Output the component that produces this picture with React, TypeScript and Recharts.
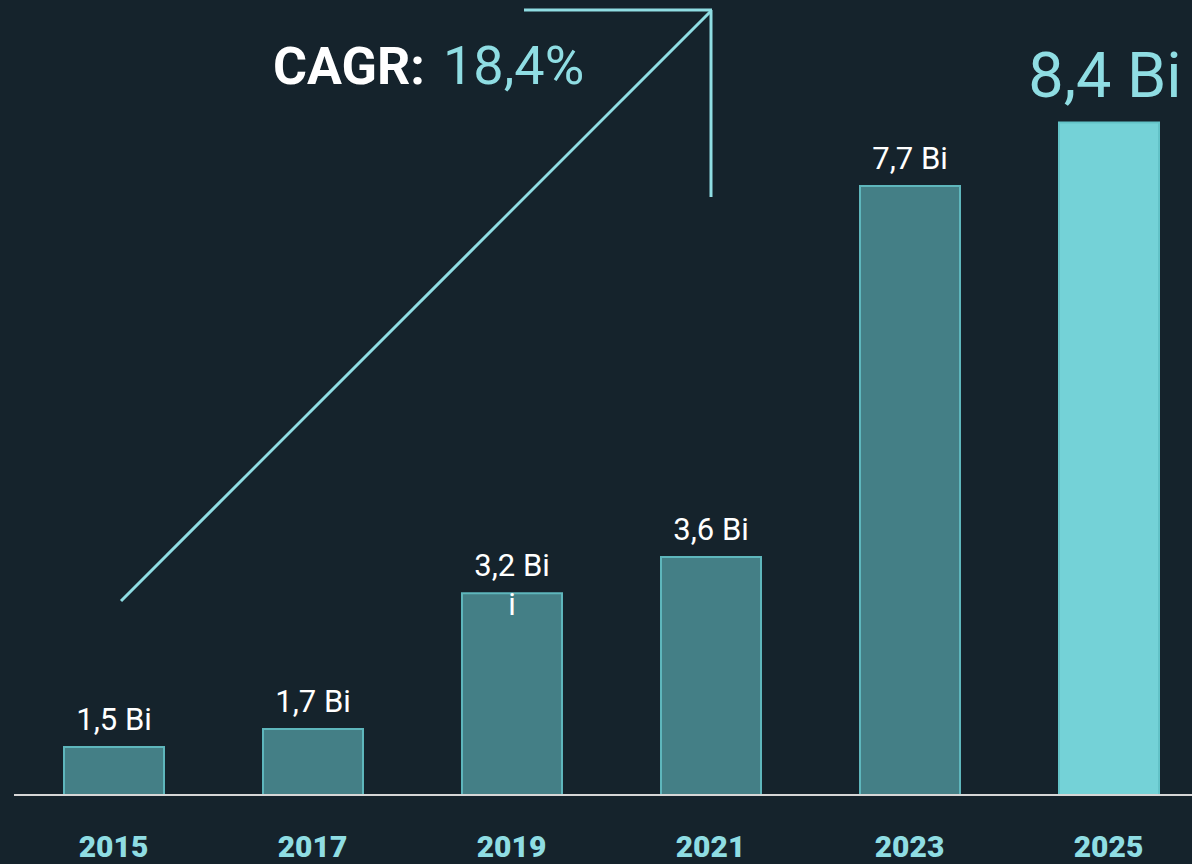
import React from "react";
import { BarChart, Bar, XAxis, YAxis, Cell, LabelList } from "recharts";

const years = ["2015", "2017", "2019", "2021", "2023", "2025"];
const values = [1.5, 1.7, 3.2, 3.6, 7.7, 8.4];
const valueLabels = ["1,5 Bi", "1,7 Bi", "3,2 Bi\ni", "3,6 Bi", "7,7 Bi", "8,4 Bi"];
const highlighted = [false, false, false, false, false, true];
const cagrLabel = "CAGR:";
const cagrValue = "18,4%";

const data = years.map((year, i) => ({
  year,
  value: values[i],
  label: valueLabels[i],
  highlight: highlighted[i],
}));

const BG = "#15232c";
const BAR = "#447f86";
const BAR_STROKE = "#5eb6bc";
const HI = "#74d2d7";
const HI_STROKE = "#63c3c8";
const CYAN = "#8fdde3";
const FONT = "Roboto, 'Noto Sans', sans-serif";

const XTick = (props: any) => {
  const { x, y, payload } = props;
  return (
    <text
      x={x}
      y={y + 54}
      textAnchor="middle"
      fill={CYAN}
      fontFamily={FONT}
      fontWeight={900}
      fontSize={30}
    >
      {payload.value}
    </text>
  );
};

const ValueLabel = (props: any) => {
  const { x, y, width, index } = props;
  const d = data[index];
  const cx = x + width / 2;
  if (d.highlight) {
    return (
      <text
        x={cx - 4}
        y={y - 26}
        textAnchor="middle"
        fill={CYAN}
        fontFamily={FONT}
        fontSize={63}
      >
        {d.label}
      </text>
    );
  }
  const lines = String(d.label).split("\n");
  return (
    <text
      x={cx}
      y={y - 17}
      textAnchor="middle"
      fill="#ffffff"
      fontFamily={FONT}
      fontSize={31}
    >
      {lines.map((ln, k) => (
        <tspan key={k} x={cx} dy={k === 0 ? 0 : 39}>
          {ln}
        </tspan>
      ))}
    </text>
  );
};

export default function App() {
  return (
    <div
      style={{
        position: "absolute",
        left: 0,
        top: 0,
        width: 1192,
        height: 864,
        overflow: "hidden",
        background: BG,
      }}
    >
      <BarChart
        width={1210}
        height={864}
        data={data}
        margin={{ top: 0, right: 2, left: 14, bottom: 0 }}
        barSize={100}
      >
        <YAxis hide domain={[0.97, 9.755]} allowDataOverflow />
        <Bar dataKey="value" isAnimationActive={false} strokeWidth={2}>
          {data.map((d, i) => (
            <Cell
              key={i}
              fill={d.highlight ? HI : BAR}
              stroke={d.highlight ? HI_STROKE : BAR_STROKE}
            />
          ))}
          <LabelList dataKey="label" content={<ValueLabel />} />
        </Bar>
        <XAxis
          dataKey="year"
          height={69}
          tickLine={false}
          axisLine={{ stroke: "#d6d6d6", strokeWidth: 2 }}
          tick={<XTick />}
          interval={0}
        />
      </BarChart>
      <svg
        width={1192}
        height={864}
        style={{ position: "absolute", left: 0, top: 0, pointerEvents: "none" }}
      >
        <g stroke={CYAN} strokeWidth={3} fill="none" strokeLinecap="butt">
          <line x1={121} y1={601} x2={711} y2={11} />
          <line x1={524} y1={10} x2={712} y2={10} />
          <line x1={711} y1={10} x2={711} y2={197} />
        </g>
        <text x={273} y={84} fontFamily={FONT} fontSize={52} fill="#ffffff" fontWeight={700}>
          {cagrLabel}
        </text>
        <text x={443} y={84} fontFamily={FONT} fontSize={54} fill={CYAN} fontWeight={400}>
          {cagrValue}
        </text>
      </svg>
    </div>
  );
}
